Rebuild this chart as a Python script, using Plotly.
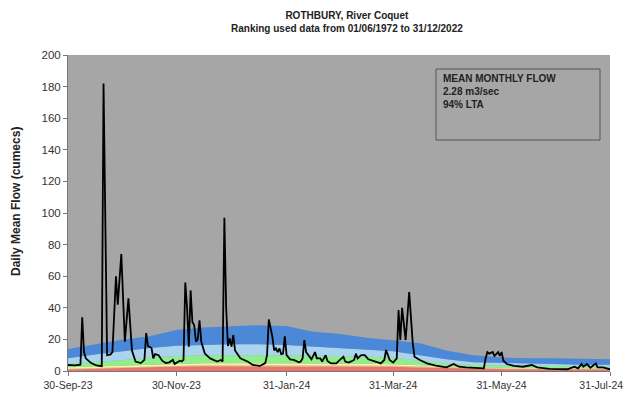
import plotly.graph_objects as go
import pandas as pd

start_date = "2023-09-30"

# Daily mean flow (cumecs) read at key days (offset in days from start_date)
flow_day = [0, 4, 7, 8, 9, 10, 13, 16, 19, 20, 22, 24, 25, 27, 28, 30, 32, 34, 36, 38, 41, 43,
            44, 45, 47, 48, 49, 51, 53, 55, 57, 58, 59, 60, 61, 63, 64, 65, 66, 67, 68, 69, 70,
            71, 72, 73, 74, 75, 77, 80, 84, 86, 87, 88, 89, 90, 91, 92, 93, 94, 97, 101, 104,
            108, 111, 112, 113, 115, 116, 117, 118, 119, 120, 121, 122, 123, 125, 127, 130, 131,
            132, 133, 134, 136, 137, 139, 140, 142, 143, 145, 146, 148, 151, 153, 155, 156, 158,
            161, 162, 163, 165, 167, 169, 173, 176, 178, 179, 181, 183, 185, 186, 187, 188, 190,
            192, 194, 195, 198, 202, 207, 213, 217, 220, 224, 232, 234, 235, 236, 237, 239, 240,
            242, 243, 244, 245, 247, 251, 256, 261, 264, 271, 281, 285, 287, 289, 290, 292, 294,
            297, 298, 301, 305]
flow_val = [3.8, 3.5, 4, 34, 12, 8, 5, 3.5, 3, 182, 10, 10.5, 12, 60, 42, 74, 18.5, 46, 13, 6, 5, 7,
            24, 15.8, 14.5, 8, 10.7, 10, 6.5, 5, 5.5, 6, 7, 4.5, 5, 6.5, 6, 7, 56, 40, 15.4, 51, 31,
            29, 18.5, 20, 32, 18.5, 11, 8, 6, 7, 6, 97, 40, 15.8, 20.6, 15.4, 22.7, 13, 8, 6, 3.8,
            3.2, 5, 10, 32.6, 21.7, 13, 14.3, 12, 14.3, 10.7, 11, 22, 10, 7.4, 7, 5.5, 6,
            8, 19.6, 12, 9, 7.4, 12, 8, 8, 6, 10, 6.3, 4.8, 4.8, 7, 9, 6, 5.3,
            7, 11, 8, 10, 10, 7.4, 6, 4.8, 7, 13.3, 7, 5.3, 8, 38.5, 19.6, 40, 19.6,
            50, 17.5, 9, 7, 4.8, 3.4, 2.3, 4.4, 2.7, 2.3, 1.7, 1.7, 8, 12, 11, 12, 9.5,
            12, 9.5, 12, 6.5, 4.4, 3.2, 2.7, 3.8, 2.3, 1.3, 1.1, 2.7, 1.7, 4.4, 2.7, 4.4, 2.1,
            4.8, 2.3, 2.3, 1.1]

# Percentile band upper limits (cumecs)
band_day = [0, 15, 31, 46, 61, 76, 92, 107, 123, 137, 152, 168, 183, 198, 213, 228, 244, 259, 274, 290, 305]
red_top = [1.0, 1.5, 2.0, 2.5, 2.8, 3.0, 3.0, 3.0, 3.0, 3.0, 3.0, 2.9, 2.7, 2.2, 1.8, 1.4, 1.2, 1.1, 1.0, 1.0, 1.0]
orange_top = [1.5, 2.0, 2.6, 3.1, 3.5, 3.7, 3.7, 3.7, 3.7, 3.7, 3.6, 3.5, 3.3, 2.8, 2.3, 1.9, 1.6, 1.5, 1.4, 1.3, 1.3]
yellow_top = [2.3, 2.8, 3.4, 4.1, 4.6, 4.9, 4.9, 4.9, 4.9, 4.9, 4.8, 4.6, 4.3, 3.5, 2.8, 2.3, 2.0, 1.8, 1.7, 1.6, 1.6]
green_top = [4.5, 5.5, 7.0, 8.5, 9.5, 10, 10, 10, 10, 9.8, 9.5, 9.0, 8.5, 6.5, 4.8, 3.8, 3.5, 3.2, 3.0, 2.8, 2.8]
lightblue_top = [8, 10.5, 12.5, 14.5, 16, 16.5, 17, 17, 16.5, 15.5, 14.5, 13.5, 12.5, 10, 7.5, 5.5, 5, 4.5, 4.2, 4, 4]
blue_top = [14, 17, 20, 22, 26, 27.5, 28.5, 29, 28.5, 25, 23.5, 21, 19.5, 17.5, 13, 10, 8.5, 8, 8, 7.5, 7.5]

tick_dates = ["2023-09-30", "2023-11-30", "2024-01-31", "2024-03-31", "2024-05-31", "2024-07-31"]
tick_text = ["30-Sep-23", "30-Nov-23", "31-Jan-24", "31-Mar-24", "31-May-24", "31-Jul-24"]
y_ticks = [0, 20, 40, 60, 80, 100, 120, 140, 160, 180, 200]

title_lines = ["ROTHBURY, River Coquet", "Ranking used data from 01/06/1972 to 31/12/2022"]
y_title = "Daily Mean Flow (cumecs)"
box_lines = ["MEAN MONTHLY FLOW", "2.28 m3/sec", "94% LTA"]

t0 = pd.Timestamp(start_date)
flow_x = [t0 + pd.Timedelta(days=d) for d in flow_day]
band_x = [t0 + pd.Timedelta(days=d) for d in band_day]

# The page body adds an 8px offset, so the figure is drawn 8px smaller and
# its plot area is placed so that it lands on page pixels 68..610 x 55..371.
OFF = 8
W, H = 633 - OFF, 397 - OFF
L, R, T, B = 68, 610, 55, 371          # page pixels of the plot area
def px(x):
    return (x - L) / (R - L)
def py(y):
    return (B - y) / (B - T)

# keep the right-most date label inside the page (pad it so it shifts left a little)
shown_tick_text = tick_text[:-1] + [tick_text[-1] + "\u00a0" * 6]

fig = go.Figure()
bands = [
    (red_top, "#e8766c", "tozeroy"),
    (orange_top, "#f6b98a", "tonexty"),
    (yellow_top, "#fbf3a0", "tonexty"),
    (green_top, "#90ee8c", "tonexty"),
    (lightblue_top, "#a9d3ef", "tonexty"),
    (blue_top, "#4b88d8", "tonexty"),
]
for vals, col, fill in bands:
    fig.add_trace(go.Scatter(x=band_x, y=vals, mode="lines", line=dict(width=0, color=col),
                             fill=fill, fillcolor=col, showlegend=False, hoverinfo="skip"))

fig.add_trace(go.Scatter(x=flow_x, y=flow_val, mode="lines",
                         line=dict(color="black", width=1.8), showlegend=False))

fig.update_layout(
    width=W, height=H,
    margin=dict(l=L - OFF, r=W - (R - OFF), t=T - OFF, b=H - (B - OFF), autoexpand=False),
    paper_bgcolor="white",
    plot_bgcolor="#a6a6a6",
    font=dict(family="Liberation Sans, Arial, sans-serif", size=11, color="#222"),
    showlegend=False,
)
fig.update_xaxes(
    range=[tick_dates[0], tick_dates[-1]],
    tickvals=tick_dates, ticktext=shown_tick_text,
    ticks="outside", ticklen=4, tickcolor="#777",
    showline=True, linecolor="#777", linewidth=1,
    showgrid=False, zeroline=False, automargin=False,
    ticklabeloverflow="allow",
    tickfont=dict(size=10.5, color="#333"),
)
fig.update_yaxes(
    range=[0, 200], tickvals=y_ticks,
    ticks="outside", ticklen=4, tickcolor="#777",
    showline=True, linecolor="#777", linewidth=1,
    showgrid=False, zeroline=False, automargin=False,
    tickfont=dict(size=11.5, color="#333"),
)

fig.add_annotation(xref="paper", yref="paper", x=px(16), y=py(202), xanchor="center", yanchor="middle",
                   text="<b>" + y_title + "</b>", textangle=-90,
                   showarrow=False, font=dict(size=12, color="#222"))

fig.add_annotation(xref="paper", yref="paper", x=px(347), y=py(8), xanchor="center", yanchor="top",
                   text="<b>" + title_lines[0] + "<br>" + title_lines[1] + "</b>",
                   showarrow=False, font=dict(size=10, color="#222"))

fig.add_shape(type="rect", xref="paper", yref="paper",
              x0=px(436), x1=px(600), y0=py(140), y1=py(69),
              line=dict(color="#555", width=1), fillcolor="rgba(0,0,0,0)")
fig.add_annotation(xref="paper", yref="paper", x=px(441), y=py(71),
                   xanchor="left", yanchor="top", align="left",
                   text="<b>" + "<br>".join(box_lines) + "</b>",
                   showarrow=False, font=dict(size=10, color="#222"))

fig.write_html("out.html")
